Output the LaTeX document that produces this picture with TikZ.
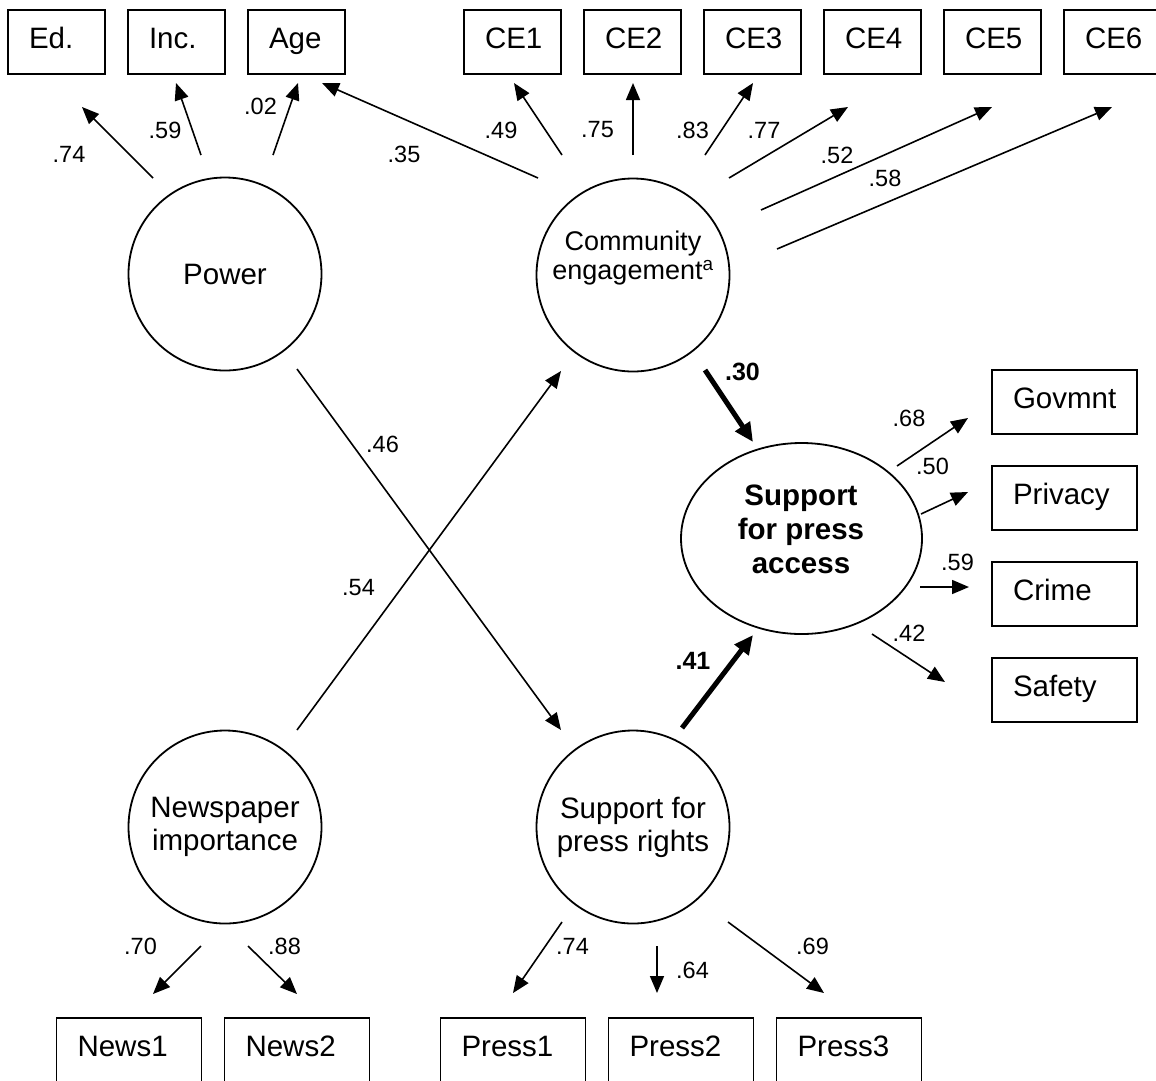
\documentclass[tikz,border=0pt]{standalone}
\usepackage{fontspec}
\setmainfont{Liberation Sans}
\usetikzlibrary{arrows.meta,shapes.geometric}
\begin{document}
\begin{tikzpicture}[x=1pt,y=-1pt,
  every node/.style={font=\fontsize{29.5}{33}\selectfont},
  latent/.style={draw, line width=1.8pt, circle, minimum size=193pt, inner sep=0pt, align=center},
  obs/.style={draw, line width=1.6pt, rectangle, inner xsep=21pt, inner ysep=0pt,
              minimum height=64pt, text height=21pt, text depth=9pt, align=left},
  narrowbox/.style={obs, text width=55pt},
  widebox/.style={obs, text width=103pt},
  load/.style={line width=1.6pt, -{Triangle[length=17pt,width=14pt]}},
  strong/.style={line width=5pt, -{Triangle[length=19pt,width=17pt]}},
  coef/.style={font=\fontsize{23.5}{26}\selectfont, inner sep=0pt},
  bcoef/.style={font=\bfseries\fontsize{25}{28}\selectfont, inner sep=0pt}
]
\useasboundingbox (0,0) rectangle (1156,1080);

% indicator boxes, top row
\node[narrowbox] (ed)  at (56.5,42)  {Ed.};
\node[narrowbox] (inc) at (176.5,42) {Inc.};
\node[narrowbox] (age) at (296.5,42) {Age};
\node[narrowbox] (ce1) at (512.5,42) {CE1};
\node[narrowbox] (ce2) at (632.5,42) {CE2};
\node[narrowbox] (ce3) at (752.5,42) {CE3};
\node[narrowbox] (ce4) at (872.5,42) {CE4};
\node[narrowbox] (ce5) at (992.5,42) {CE5};
\node[narrowbox] (ce6) at (1112.5,42) {CE6};

% indicator boxes, right column
\node[widebox] (gov)    at (1064.5,402) {Govmnt};
\node[widebox] (priv)   at (1064.5,498) {Privacy};
\node[widebox] (crime)  at (1064.5,594) {Crime};
\node[widebox] (safety) at (1064.5,690) {Safety};

% indicator boxes, bottom row
\node[widebox] (news1)  at (129,1050) {News1};
\node[widebox] (news2)  at (297,1050) {News2};
\node[widebox] (press1) at (513,1050) {Press1};
\node[widebox] (press2) at (681,1050) {Press2};
\node[widebox] (press3) at (849,1050) {Press3};

% latent variables
\node[latent] (power)   at (225,274) {Power};
\node[latent] (comm)    at (633,275) {};
\node[align=center, font=\fontsize{27}{28.5}\selectfont] (commtext) at (633,258)
  {Community\\engagement\textsuperscript{a}};
\node[latent] (newsimp) at (225,827) {Newspaper\\importance};
\node[latent] (rights)  at (633,827) {Support for\\press rights};
\node[draw, line width=1.8pt, ellipse, minimum width=241pt, minimum height=191pt, inner sep=0pt]
  (access) at (801.5,538.5) {};
\node[align=center, font=\bfseries\fontsize{29.5}{34}\selectfont] (accesstext) at (801,529)
  {Support\\for press\\access};

% connector end points
\coordinate (pe0) at (153,178);  \coordinate (pe1) at (82,107);
\coordinate (pi0) at (201,155);  \coordinate (pi1) at (176,83);
\coordinate (pa0) at (273,155);  \coordinate (pa1) at (298,83);
\coordinate (ca0) at (538,178);  \coordinate (ca1) at (322,83);
\coordinate (c10) at (562,155);  \coordinate (c11) at (514,83);
\coordinate (c20) at (633,155);  \coordinate (c21) at (633,83);
\coordinate (c30) at (705,155);  \coordinate (c31) at (753,83);
\coordinate (c40) at (729,178);  \coordinate (c41) at (848,107);
\coordinate (c50) at (761,210);  \coordinate (c51) at (992,107);
\coordinate (c60) at (777,249);  \coordinate (c61) at (1112,107);
\coordinate (ac0) at (705,370);  \coordinate (ac1) at (753,442);
\coordinate (ar0) at (682,728);  \coordinate (ar1) at (753,635);
\coordinate (ag0) at (897,466);  \coordinate (ag1) at (968,418);
\coordinate (ap0) at (921,514);  \coordinate (ap1) at (968,492);
\coordinate (ak0) at (920,587);  \coordinate (ak1) at (969,587);
\coordinate (as0) at (872,634);  \coordinate (as1) at (945,682);
\coordinate (pr0) at (297,369);  \coordinate (pr1) at (561,730);
\coordinate (nc0) at (297,730);  \coordinate (nc1) at (561,371);
\coordinate (n10) at (201,946);  \coordinate (n11) at (153,994);
\coordinate (n20) at (248,946);  \coordinate (n21) at (297,994);
\coordinate (r10) at (562,922);  \coordinate (r11) at (513,993);
\coordinate (r20) at (657,946);  \coordinate (r21) at (657,993);
\coordinate (r30) at (728,922);  \coordinate (r31) at (824,993);

% loadings and paths
\draw[load] (pe0) -- (pe1);
\draw[load] (pi0) -- (pi1);
\draw[load] (pa0) -- (pa1);
\draw[load] (ca0) -- (ca1);
\draw[load] (c10) -- (c11);
\draw[load] (c20) -- (c21);
\draw[load] (c30) -- (c31);
\draw[load] (c40) -- (c41);
\draw[load] (c50) -- (c51);
\draw[load] (c60) -- (c61);
\draw[strong] (ac0) -- (ac1);
\draw[strong] (ar0) -- (ar1);
\draw[load] (ag0) -- (ag1);
\draw[load] (ap0) -- (ap1);
\draw[load] (ak0) -- (ak1);
\draw[load] (as0) -- (as1);
\draw[load] (pr0) -- (pr1);
\draw[load] (nc0) -- (nc1);
\draw[load] (n10) -- (n11);
\draw[load] (n20) -- (n21);
\draw[load] (r10) -- (r11);
\draw[load] (r20) -- (r21);
\draw[load] (r30) -- (r31);

% coefficients
\node[coef] (lpe) at (69,154)    {.74};
\node[coef] (lpi) at (165,130)   {.59};
\node[coef] (lpa) at (260.5,106) {.02};
\node[coef] (lca) at (404,154)   {.35};
\node[coef] (lc1) at (501,130)   {.49};
\node[coef] (lc2) at (597.5,130) {.75};
\node[coef] (lc3) at (692.5,130) {.83};
\node[coef] (lc4) at (764,130)   {.77};
\node[coef] (lc5) at (837,155)   {.52};
\node[coef] (lc6) at (885,178)   {.58};
\node[bcoef] (lac) at (742.5,372) {.30};
\node[bcoef] (lar) at (693,661)   {.41};
\node[coef] (lag) at (909,418)   {.68};
\node[coef] (lap) at (932.5,466) {.50};
\node[coef] (lak) at (957.5,562) {.59};
\node[coef] (las) at (909,633.5) {.42};
\node[coef] (lpr) at (382.5,444.5) {.46};
\node[coef] (lnc) at (358.5,587.5) {.54};
\node[coef] (ln1) at (140.5,946) {.70};
\node[coef] (ln2) at (284.5,946) {.88};
\node[coef] (lr1) at (572.5,946.5) {.74};
\node[coef] (lr2) at (692.5,970) {.64};
\node[coef] (lr3) at (812.5,946.5) {.69};
\end{tikzpicture}
\end{document}
